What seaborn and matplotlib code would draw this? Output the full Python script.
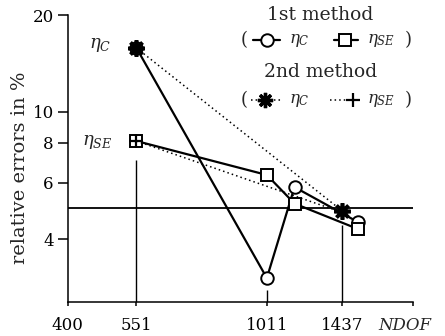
import matplotlib
matplotlib.use("Agg")
import matplotlib.pyplot as plt
from matplotlib.ticker import NullLocator, FixedLocator
import seaborn as sns

sns.set_style("ticks")
plt.rcParams['font.family'] = ['DejaVu Serif']
plt.rcParams['mathtext.fontset'] = 'dejavuserif'

# -------------------------------
# Data
# -------------------------------
ndof_m1 = [551, 1011, 1150, 1544]
eta_c_m1 = [15.8, 3.03, 5.82, 4.53]
eta_se_m1 = [8.1, 6.35, 5.17, 4.31]

ndof_m2 = [551, 1437]
eta_c_m2 = [15.8, 4.90]
eta_se_m2 = [8.1, 4.85]

ref_level = 5.0
drop_x = [551, 1011, 1437]
drop_top = [7.05, 2.78, 4.43]

xticks = [400, 551, 1011, 1437, 2000]
xticklabels = ['400', '551', '1011', '1437', '']
yticks = [4, 6, 8, 10, 20]
yticklabels = ['4', '6', '8', '10', '20']
xlim = (400, 2000)
ylim = (2.55, 20)

# -------------------------------
# Figure
# -------------------------------
fig = plt.figure(figsize=(4.45, 3.36), dpi=100)
ax = fig.add_axes([0.152, 0.101, 0.777, 0.854])
ax.set_xscale('log')
ax.set_yscale('log')
ax.set_xlim(*xlim)
ax.set_ylim(*ylim)

# reference level and drop lines
ax.axhline(ref_level, color='k', lw=1.3, zorder=1)
ax.vlines(drop_x, ylim[0], drop_top, color='k', lw=1.0, zorder=1)

# 1st method (solid)
sns.lineplot(x=ndof_m1, y=eta_c_m1, ax=ax, color='k', lw=1.6, marker='o',
             markersize=9, markerfacecolor='white', markeredgecolor='k',
             markeredgewidth=1.4, zorder=3)
sns.lineplot(x=ndof_m1, y=eta_se_m1, ax=ax, color='k', lw=1.6, marker='s',
             markersize=8, markerfacecolor='white', markeredgecolor='k',
             markeredgewidth=1.4, zorder=3)

# 2nd method (dotted)
sns.lineplot(x=ndof_m2, y=eta_c_m2, ax=ax, color='k', lw=1.1, dashes=False,
             linestyle=(0, (1, 2)), marker=(8, 2, 0), markersize=12,
             markeredgecolor='k', markeredgewidth=2.6, zorder=4)
sns.lineplot(x=ndof_m2, y=eta_se_m2, ax=ax, color='k', lw=1.1, dashes=False,
             linestyle=(0, (1, 2)), marker='+', markersize=10,
             markeredgecolor='k', markeredgewidth=1.6, zorder=4)

# axes styling
sns.despine(ax=ax)
for s in ['left', 'bottom']:
    ax.spines[s].set_linewidth(1.1)
    ax.spines[s].set_color('k')
ax.xaxis.set_major_locator(FixedLocator(xticks))
ax.yaxis.set_major_locator(FixedLocator(yticks))
ax.xaxis.set_minor_locator(NullLocator())
ax.yaxis.set_minor_locator(NullLocator())
ax.set_xticklabels(xticklabels)
ax.set_yticklabels(yticklabels)
ax.tick_params(axis='y', direction='out', length=7, width=1.1, pad=3,
               labelsize=12, colors='k')
ax.tick_params(axis='x', direction='out', length=3, width=1.1, pad=8,
               labelsize=12, colors='k')

ax.text(0.898, -0.08, 'NDOF', transform=ax.transAxes, fontsize=12,
        style='italic', ha='left', va='center')
fig.text(20 / 445, 1 - 168 / 336, 'relative errors in %', rotation=90,
         fontsize=14, ha='center', va='center')

# curve labels
ax.annotate(r'$\eta_C$', xy=(ndof_m1[0], eta_c_m1[0]), xytext=(-26, 2),
            textcoords='offset points', fontsize=13, ha='center', va='center')
ax.annotate(r'$\eta_{SE}$', xy=(ndof_m1[0], eta_se_m1[0]), xytext=(-28, -1),
            textcoords='offset points', fontsize=13, ha='center', va='center')

# legend (hand-built)
tr = ax.transAxes
ax.text(0.731, 1.0, '1st method', transform=tr, fontsize=13.5, ha='center', va='center')
ax.text(0.731, 0.801, '2nd method', transform=tr, fontsize=13.5, ha='center', va='center')
for fy in [0.913, 0.704]:
    ax.text(0.51, fy, '(', transform=tr, fontsize=13, ha='center', va='center')
    ax.text(0.985, fy, ')', transform=tr, fontsize=13, ha='center', va='center')
ax.text(0.64, 0.913, r'$\eta_C$', transform=tr, fontsize=12, ha='left', va='center')
ax.text(0.865, 0.913, r'$\eta_{SE}$', transform=tr, fontsize=12, ha='left', va='center')
ax.text(0.64, 0.704, r'$\eta_C$', transform=tr, fontsize=12, ha='left', va='center')
ax.text(0.865, 0.704, r'$\eta_{SE}$', transform=tr, fontsize=12, ha='left', va='center')
ax.plot([0.535, 0.615], [0.913, 0.913], transform=tr, clip_on=False, color='k', lw=1.6)
ax.plot([0.578], [0.913], transform=tr, clip_on=False, marker='o', ms=9,
        mfc='white', mec='k', mew=1.4)
ax.plot([0.77, 0.84], [0.913, 0.913], transform=tr, clip_on=False, color='k', lw=1.6)
ax.plot([0.803], [0.913], transform=tr, clip_on=False, marker='s', ms=8,
        mfc='white', mec='k', mew=1.4)
ax.plot([0.53, 0.62], [0.704, 0.704], transform=tr, clip_on=False, color='k',
        lw=1.1, linestyle=(0, (1, 2)))
ax.plot([0.572], [0.704], transform=tr, clip_on=False, marker=(8, 2, 0), ms=11,
        mec='k', mew=2.4)
ax.plot([0.76, 0.85], [0.704, 0.704], transform=tr, clip_on=False, color='k',
        lw=1.1, linestyle=(0, (1, 2)))
ax.plot([0.826], [0.704], transform=tr, clip_on=False, marker='+', ms=10,
        mec='k', mew=1.6)

fig.savefig('out.png', dpi=100)
